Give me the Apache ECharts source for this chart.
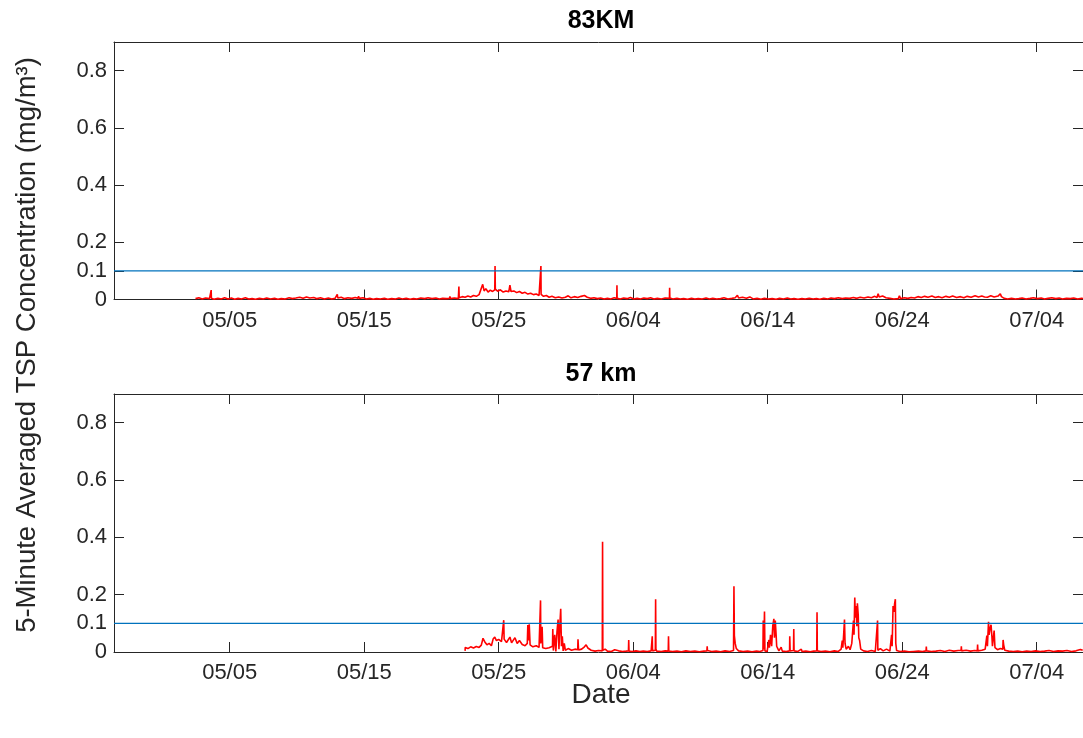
<!DOCTYPE html>
<html>
<head>
<meta charset="utf-8">
<title>5-Minute Averaged TSP Concentration</title>
<script src="https://cdn.jsdelivr.net/npm/echarts@6/dist/echarts.min.js"></script>
<style>
  html, body { margin: 0; padding: 0; background: #ffffff; }
  #chart { width: 1083px; height: 738px; }
</style>
</head>
<body>
<div id="chart"></div>
<script>
// ---- data -------------------------------------------------------------
const panelTitles = ['83KM', '57 km'];
const dateTicks = ['05-05', '05-15', '05-25', '06-04', '06-14', '06-24', '07-04'];
const concTicks = [0, 0.1, 0.2, 0.4, 0.6, 0.8];
const thresholdValue = 0.1;

// 83KM station, 5-minute averaged TSP (mg/m3)
const site83 = [
  ['05-02 11:00', 0.003], ['05-02 17:00', 0.006], ['05-02 23:00', 0.002], ['05-03 05:00', 0.005],
  ['05-03 12:00', 0.003], ['05-03 14:40', 0.004], ['05-03 15:00', 0.033], ['05-03 15:20', 0.004],
  ['05-03 20:00', 0.001], ['05-04 03:00', 0.004], ['05-04 09:00', 0.002], ['05-04 15:00', 0.006],
  ['05-04 21:00', 0.002], ['05-05 03:00', 0.005], ['05-05 09:00', 0.001], ['05-05 15:00', 0.004],
  ['05-05 21:00', 0.002], ['05-06 04:00', 0.006], ['05-06 10:00', 0.002], ['05-06 16:00', 0.003],
  ['05-06 22:00', 0.001], ['05-07 05:00', 0.004], ['05-07 12:00', 0.002], ['05-07 18:00', 0.005],
  ['05-08 01:00', 0.002], ['05-08 08:00', 0.004], ['05-08 14:00', 0.001], ['05-08 20:00', 0.003],
  ['05-09 03:00', 0.002], ['05-09 10:00', 0.006], ['05-09 16:00', 0.003], ['05-09 22:00', 0.005],
  ['05-10 05:00', 0.008], ['05-10 11:00', 0.004], ['05-10 17:00', 0.009], ['05-10 23:00', 0.005],
  ['05-11 06:00', 0.007], ['05-11 12:00', 0.003], ['05-11 18:00', 0.006], ['05-12 01:00', 0.002],
  ['05-12 08:00', 0.005], ['05-12 14:00', 0.002], ['05-12 20:00', 0.004], ['05-12 23:00', 0.005],
  ['05-13 00:00', 0.018], ['05-13 01:00', 0.005], ['05-13 07:00', 0.008], ['05-13 13:00', 0.003],
  ['05-13 19:00', 0.006], ['05-14 02:00', 0.004], ['05-14 08:00', 0.007], ['05-14 13:00', 0.004],
  ['05-14 14:00', 0.012], ['05-14 15:00', 0.004], ['05-14 22:00', 0.006], ['05-15 04:00', 0.002],
  ['05-15 10:00', 0.004], ['05-15 16:00', 0.001], ['05-15 22:00', 0.003], ['05-16 05:00', 0.002],
  ['05-16 12:00', 0.004], ['05-16 18:00', 0.001], ['05-17 01:00', 0.003], ['05-17 08:00', 0.002],
  ['05-17 14:00', 0.005], ['05-17 20:00', 0.002], ['05-18 03:00', 0.004], ['05-18 10:00', 0.001],
  ['05-18 16:00', 0.003], ['05-18 22:00', 0.002], ['05-19 05:00', 0.005], ['05-19 12:00', 0.003],
  ['05-19 18:00', 0.006], ['05-20 01:00', 0.003], ['05-20 08:00', 0.005], ['05-20 14:00', 0.002],
  ['05-20 20:00', 0.004], ['05-21 03:00', 0.003], ['05-21 08:00', 0.004], ['05-21 09:00', 0.011],
  ['05-21 10:00', 0.003], ['05-21 17:00', 0.005], ['05-22 00:00', 0.003], ['05-22 01:00', 0.045],
  ['05-22 01:30', 0.006], ['05-22 07:00', 0.010], ['05-22 12:00', 0.008], ['05-22 17:00', 0.012],
  ['05-22 22:00', 0.009], ['05-23 03:00', 0.014], ['05-23 08:00', 0.011], ['05-23 13:00', 0.017],
  ['05-23 16:00', 0.013], ['05-23 19:30', 0.053], ['05-23 22:00', 0.030], ['05-24 01:00', 0.038],
  ['05-24 05:00', 0.026], ['05-24 09:00', 0.033], ['05-24 13:00', 0.028], ['05-24 17:00', 0.034],
  ['05-24 17:30', 0.117], ['05-24 18:00', 0.036], ['05-24 22:00', 0.029], ['05-25 03:00', 0.034],
  ['05-25 08:00', 0.026], ['05-25 13:00', 0.030], ['05-25 18:00', 0.027], ['05-25 20:00', 0.050],
  ['05-25 22:00', 0.028], ['05-26 03:00', 0.030], ['05-26 08:00', 0.024], ['05-26 13:00', 0.028],
  ['05-26 18:00', 0.022], ['05-26 23:00', 0.025], ['05-27 04:00', 0.019], ['05-27 09:00', 0.022],
  ['05-27 14:00', 0.017], ['05-27 19:00', 0.019], ['05-28 00:00', 0.014], ['05-28 03:00', 0.015],
  ['05-28 03:20', 0.117], ['05-28 03:40', 0.018], ['05-28 08:00', 0.011], ['05-28 13:00', 0.014],
  ['05-28 18:00', 0.008], ['05-28 23:00', 0.011], ['05-29 05:00', 0.006], ['05-29 11:00', 0.009],
  ['05-29 17:00', 0.005], ['05-29 23:00', 0.008], ['05-30 04:00', 0.013], ['05-30 09:00', 0.006],
  ['05-30 15:00', 0.010], ['05-30 21:00', 0.007], ['05-31 03:00', 0.011], ['05-31 09:00', 0.014],
  ['05-31 14:00', 0.008], ['05-31 20:00', 0.004], ['06-01 02:00', 0.006], ['06-01 08:00', 0.003],
  ['06-01 14:00', 0.005], ['06-01 20:00', 0.002], ['06-02 02:00', 0.004], ['06-02 08:00', 0.002],
  ['06-02 14:00', 0.006], ['06-02 18:40', 0.004], ['06-02 19:00', 0.050], ['06-02 19:20', 0.004],
  ['06-03 01:00', 0.002], ['06-03 07:00', 0.005], ['06-03 13:00', 0.003], ['06-03 19:00', 0.007],
  ['06-04 01:00', 0.002], ['06-04 07:00', 0.004], ['06-04 13:00', 0.002], ['06-04 19:00', 0.005],
  ['06-05 01:00', 0.003], ['06-05 07:00', 0.006], ['06-05 13:00', 0.002], ['06-05 19:00', 0.004],
  ['06-06 02:00', 0.002], ['06-06 09:00', 0.005], ['06-06 16:40', 0.004], ['06-06 17:00', 0.041],
  ['06-06 17:20', 0.005], ['06-06 23:00', 0.002], ['06-07 06:00', 0.004], ['06-07 12:00', 0.002],
  ['06-07 18:00', 0.003], ['06-08 01:00', 0.001], ['06-08 08:00', 0.004], ['06-08 14:00', 0.002],
  ['06-08 20:00', 0.003], ['06-09 03:00', 0.002], ['06-09 10:00', 0.005], ['06-09 16:00', 0.002],
  ['06-09 22:00', 0.004], ['06-10 05:00', 0.002], ['06-10 12:00', 0.003], ['06-10 18:00', 0.006],
  ['06-11 01:00', 0.002], ['06-11 08:00', 0.004], ['06-11 14:00', 0.006], ['06-11 18:00', 0.015],
  ['06-11 20:00', 0.005], ['06-12 03:00', 0.008], ['06-12 10:00', 0.004], ['06-12 16:00', 0.009],
  ['06-12 22:00', 0.002], ['06-13 05:00', 0.004], ['06-13 12:00', 0.001], ['06-13 18:00', 0.004],
  ['06-14 01:00', 0.002], ['06-14 08:00', 0.003], ['06-14 15:00', 0.001], ['06-14 21:00', 0.004],
  ['06-15 04:00', 0.002], ['06-15 11:00', 0.005], ['06-15 17:00', 0.002], ['06-15 23:00', 0.003],
  ['06-16 06:00', 0.001], ['06-16 13:00', 0.003], ['06-16 19:00', 0.002], ['06-17 02:00', 0.004],
  ['06-17 09:00', 0.002], ['06-17 15:00', 0.003], ['06-17 21:00', 0.001], ['06-18 04:00', 0.004],
  ['06-18 11:00', 0.002], ['06-18 17:00', 0.005], ['06-18 23:00', 0.003], ['06-19 06:00', 0.006],
  ['06-19 13:00', 0.003], ['06-19 19:00', 0.005], ['06-20 02:00', 0.004], ['06-20 09:00', 0.007],
  ['06-20 15:00', 0.004], ['06-20 21:00', 0.008], ['06-21 04:00', 0.005], ['06-21 11:00', 0.009],
  ['06-21 17:00', 0.006], ['06-21 23:00', 0.011], ['06-22 03:00', 0.007], ['06-22 05:00', 0.020],
  ['06-22 07:00', 0.009], ['06-22 13:00', 0.012], ['06-22 19:00', 0.006], ['06-23 02:00', 0.004],
  ['06-23 09:00', 0.002], ['06-23 17:00', 0.003], ['06-23 19:00', 0.013], ['06-23 21:00', 0.003],
  ['06-24 04:00', 0.006], ['06-24 10:00', 0.004], ['06-24 16:00', 0.007], ['06-24 22:00', 0.005],
  ['06-25 04:00', 0.010], ['06-25 10:00', 0.007], ['06-25 16:00', 0.011], ['06-25 22:00', 0.008],
  ['06-26 05:00', 0.012], ['06-26 11:00', 0.007], ['06-26 17:00', 0.010], ['06-26 23:00', 0.006],
  ['06-27 06:00', 0.011], ['06-27 12:00', 0.008], ['06-27 18:00', 0.012], ['06-28 01:00', 0.007],
  ['06-28 08:00', 0.010], ['06-28 14:00', 0.006], ['06-28 20:00', 0.011], ['06-29 03:00', 0.008],
  ['06-29 10:00', 0.013], ['06-29 16:00', 0.009], ['06-29 22:00', 0.012], ['06-30 03:00', 0.009],
  ['06-30 05:00', 0.015], ['06-30 08:00', 0.008], ['06-30 14:00', 0.013], ['06-30 20:00', 0.009],
  ['07-01 03:00', 0.012], ['07-01 07:00', 0.020], ['07-01 09:00', 0.010], ['07-01 14:00', 0.004],
  ['07-01 20:00', 0.002], ['07-02 03:00', 0.004], ['07-02 10:00', 0.002], ['07-02 16:00', 0.003],
  ['07-02 22:00', 0.005], ['07-03 05:00', 0.002], ['07-03 12:00', 0.004], ['07-03 18:00', 0.006],
  ['07-04 01:00', 0.003], ['07-04 08:00', 0.005], ['07-04 14:00', 0.002], ['07-04 20:00', 0.004],
  ['07-05 03:00', 0.006], ['07-05 10:00', 0.003], ['07-05 16:00', 0.005], ['07-05 22:00', 0.002],
  ['07-06 05:00', 0.004], ['07-06 12:00', 0.003], ['07-06 18:00', 0.005], ['07-07 01:00', 0.002],
  ['07-07 08:00', 0.004], ['07-07 12:00', 0.003]
];

// 57 km station, 5-minute averaged TSP (mg/m3)
const site57 = [
  ['05-22 12:00', 0.004], ['05-22 12:20', 0.016], ['05-22 17:00', 0.012], ['05-22 22:00', 0.018],
  ['05-23 03:00', 0.014], ['05-23 08:00', 0.019], ['05-23 13:00', 0.016], ['05-23 17:00', 0.024],
  ['05-23 20:00', 0.048], ['05-23 23:00', 0.036], ['05-24 03:00', 0.025], ['05-24 07:00', 0.030],
  ['05-24 11:00', 0.022], ['05-24 14:00', 0.045], ['05-24 17:00', 0.052], ['05-24 20:00', 0.040],
  ['05-25 00:00', 0.044], ['05-25 05:00', 0.036], ['05-25 08:30', 0.040], ['05-25 09:00', 0.111],
  ['05-25 09:40', 0.045], ['05-25 14:00', 0.033], ['05-25 20:00', 0.052], ['05-25 23:00', 0.032],
  ['05-26 05:00', 0.050], ['05-26 09:00', 0.030], ['05-26 13:00', 0.040], ['05-26 18:00', 0.026],
  ['05-26 23:00', 0.022], ['05-27 03:00', 0.030], ['05-27 04:00', 0.094], ['05-27 05:00', 0.040],
  ['05-27 06:30', 0.097], ['05-27 08:00', 0.025], ['05-27 13:00', 0.018], ['05-27 19:00', 0.022],
  ['05-28 00:00', 0.016], ['05-28 02:20', 0.020], ['05-28 02:40', 0.180], ['05-28 03:10', 0.030],
  ['05-28 05:30', 0.088], ['05-28 06:30', 0.015], ['05-28 12:00', 0.012], ['05-28 18:00', 0.015],
  ['05-29 00:00', 0.020], ['05-29 00:30', 0.080], ['05-29 01:30', 0.005], ['05-29 04:00', 0.060],
  ['05-29 06:00', 0.002], ['05-29 08:00', 0.070], ['05-29 10:00', 0.113], ['05-29 11:30', 0.010],
  ['05-29 13:00', 0.090], ['05-29 14:40', 0.151], ['05-29 16:00', 0.020], ['05-29 17:30', 0.055],
  ['05-29 19:00', 0.004], ['05-29 21:00', 0.030], ['05-29 23:00', 0.006], ['05-30 04:00', 0.012],
  ['05-30 10:00', 0.006], ['05-30 16:00', 0.010], ['05-30 21:00', 0.008], ['05-30 21:30', 0.044],
  ['05-30 22:30', 0.007], ['05-31 04:00', 0.010], ['05-31 09:00', 0.018], ['05-31 12:00', 0.025],
  ['05-31 15:00', 0.014], ['05-31 21:00', 0.006], ['06-01 04:00', 0.003], ['06-01 10:00', 0.005],
  ['06-01 16:50', 0.004], ['06-01 17:20', 0.385], ['06-01 17:50', 0.006], ['06-01 22:00', 0.010],
  ['06-02 02:00', 0.003], ['06-02 09:00', 0.002], ['06-02 15:00', 0.008], ['06-02 16:00', 0.002],
  ['06-02 22:00', 0.004], ['06-03 05:00', 0.002], ['06-03 11:00', 0.003], ['06-03 15:30', 0.004],
  ['06-03 16:00', 0.042], ['06-03 16:30', 0.003], ['06-03 22:00', 0.002], ['06-04 05:00', 0.004],
  ['06-04 12:00', 0.002], ['06-04 18:00', 0.003], ['06-05 01:00', 0.002], ['06-05 08:00', 0.004],
  ['06-05 09:30', 0.003], ['06-05 10:00', 0.055], ['06-05 10:30', 0.004], ['06-05 15:30', 0.006],
  ['06-05 16:00', 0.184], ['06-05 16:30', 0.010], ['06-05 18:00', 0.003], ['06-06 02:00', 0.002],
  ['06-06 09:00', 0.004], ['06-06 14:30', 0.003], ['06-06 15:00', 0.055], ['06-06 15:30', 0.003],
  ['06-06 22:00', 0.002], ['06-07 06:00', 0.003], ['06-07 14:00', 0.001], ['06-07 22:00', 0.004],
  ['06-08 06:00', 0.002], ['06-08 14:00', 0.003], ['06-08 22:00', 0.001], ['06-09 06:00', 0.003],
  ['06-09 11:30', 0.004], ['06-09 12:00', 0.020], ['06-09 12:30', 0.005], ['06-09 20:00', 0.002],
  ['06-10 04:00', 0.003], ['06-10 12:00', 0.001], ['06-10 20:00', 0.004], ['06-11 04:00', 0.002],
  ['06-11 11:00', 0.005], ['06-11 11:45', 0.229], ['06-11 12:30', 0.057], ['06-11 14:00', 0.030],
  ['06-11 16:00', 0.012], ['06-11 20:00', 0.004], ['06-12 04:00', 0.002], ['06-12 12:00', 0.003],
  ['06-12 20:00', 0.001], ['06-13 04:00', 0.003], ['06-13 10:00', 0.002], ['06-13 15:30', 0.005],
  ['06-13 16:00', 0.110], ['06-13 17:00', 0.010], ['06-13 18:15', 0.141], ['06-13 19:00', 0.004],
  ['06-13 23:00', 0.002], ['06-14 02:00', 0.042], ['06-14 03:00', 0.015], ['06-14 05:00', 0.060],
  ['06-14 07:00', 0.020], ['06-14 09:00', 0.090], ['06-14 11:00', 0.116], ['06-14 12:00', 0.050],
  ['06-14 13:30', 0.110], ['06-14 15:00', 0.060], ['06-14 16:00', 0.020], ['06-14 18:00', 0.012],
  ['06-14 20:00', 0.004], ['06-15 00:00', 0.017], ['06-15 02:00', 0.003], ['06-15 09:00', 0.002],
  ['06-15 15:00', 0.004], ['06-15 15:20', 0.055], ['06-15 16:00', 0.004], ['06-15 22:00', 0.005],
  ['06-15 22:30', 0.080], ['06-15 23:00', 0.004], ['06-16 06:00', 0.002], ['06-16 12:00', 0.010],
  ['06-16 13:00', 0.002], ['06-16 20:00', 0.003], ['06-17 04:00', 0.001], ['06-17 10:00', 0.003],
  ['06-17 15:30', 0.004], ['06-17 16:00', 0.139], ['06-17 16:30', 0.004], ['06-17 23:00', 0.002],
  ['06-18 07:00', 0.003], ['06-18 15:00', 0.001], ['06-18 23:00', 0.004], ['06-19 06:00', 0.002],
  ['06-19 11:00', 0.010], ['06-19 13:00', 0.040], ['06-19 14:00', 0.015], ['06-19 15:30', 0.060],
  ['06-19 17:00', 0.113], ['06-19 18:00', 0.030], ['06-19 20:00', 0.010], ['06-20 00:00', 0.020],
  ['06-20 03:00', 0.008], ['06-20 06:00', 0.030], ['06-20 09:00', 0.110], ['06-20 10:00', 0.060],
  ['06-20 11:20', 0.190], ['06-20 12:30', 0.120], ['06-20 14:00', 0.160], ['06-20 15:00', 0.090],
  ['06-20 16:00', 0.170], ['06-20 17:30', 0.130], ['06-20 18:30', 0.050], ['06-20 20:00', 0.040],
  ['06-20 22:00', 0.010], ['06-21 03:00', 0.004], ['06-21 10:00', 0.002], ['06-21 17:00', 0.005],
  ['06-22 00:00', 0.002], ['06-22 03:30', 0.004], ['06-22 04:00', 0.110], ['06-22 04:30', 0.006],
  ['06-22 09:00', 0.012], ['06-22 14:00', 0.004], ['06-22 20:00', 0.010], ['06-23 02:00', 0.003],
  ['06-23 05:00', 0.060], ['06-23 06:00', 0.020], ['06-23 07:40', 0.160], ['06-23 09:00', 0.140],
  ['06-23 10:30', 0.170], ['06-23 11:45', 0.184], ['06-23 12:30', 0.030], ['06-23 14:00', 0.005],
  ['06-23 20:00', 0.002], ['06-24 04:00', 0.003], ['06-24 12:00', 0.001], ['06-24 20:00', 0.002],
  ['06-25 05:00', 0.003], ['06-25 12:00', 0.002], ['06-25 18:30', 0.004], ['06-25 19:00', 0.019],
  ['06-25 19:30', 0.004], ['06-26 04:00', 0.002], ['06-26 12:00', 0.003], ['06-26 20:00', 0.005],
  ['06-27 04:00', 0.002], ['06-27 12:00', 0.006], ['06-27 20:00', 0.003], ['06-28 04:00', 0.005],
  ['06-28 09:00', 0.006], ['06-28 09:30', 0.020], ['06-28 10:00', 0.004], ['06-28 18:00', 0.006],
  ['06-29 02:00', 0.003], ['06-29 09:00', 0.005], ['06-29 14:00', 0.004], ['06-29 14:30', 0.026],
  ['06-29 15:00', 0.004], ['06-29 22:00', 0.006], ['06-30 04:00', 0.010], ['06-30 07:00', 0.057],
  ['06-30 08:00', 0.020], ['06-30 10:00', 0.105], ['06-30 11:00', 0.060], ['06-30 12:30', 0.080],
  ['06-30 14:30', 0.095], ['06-30 16:00', 0.055], ['06-30 17:00', 0.020], ['06-30 20:00', 0.075],
  ['06-30 21:30', 0.015], ['07-01 02:00', 0.008], ['07-01 07:00', 0.012], ['07-01 11:30', 0.010],
  ['07-01 12:00', 0.042], ['07-01 13:00', 0.025], ['07-01 15:00', 0.006], ['07-01 22:00', 0.003],
  ['07-02 06:00', 0.002], ['07-02 14:00', 0.003], ['07-02 22:00', 0.001], ['07-03 06:00', 0.003],
  ['07-03 14:00', 0.002], ['07-03 22:00', 0.004], ['07-04 06:00', 0.002], ['07-04 14:00', 0.003],
  ['07-04 22:00', 0.005], ['07-05 06:00', 0.002], ['07-05 14:00', 0.004], ['07-05 22:00', 0.003],
  ['07-06 06:00', 0.005], ['07-06 14:00', 0.002], ['07-06 22:00', 0.004], ['07-07 06:00', 0.009],
  ['07-07 10:00', 0.006]
];

// ---- helpers ----------------------------------------------------------
const YEAR = 2019;
const DAY = 24 * 3600 * 1000;
function toMs(s) {
  const [md, hm] = s.split(' ');
  const [mo, d] = md.split('-').map(Number);
  const [h, mi] = (hm || '00:00').split(':').map(Number);
  return Date.UTC(YEAR, mo - 1, d, h, mi);
}
function pad(n) { return (n < 10 ? '0' : '') + n; }
function fmtDate(v) {
  const d = new Date(v);
  return pad(d.getUTCMonth() + 1) + '/' + pad(d.getUTCDate());
}

const refDay = toMs('05-05 00:00');
const xMin = refDay - 8.6 * DAY;
const xMax = refDay + 63.44 * DAY;
const xTickValues = dateTicks.map(t => toMs(t + ' 00:00'));

const FONT = "'Liberation Sans', Arial, Helvetica, sans-serif";
const INK = '#262626';

const grids = [
  { left: 114, top: 42, width: 974, height: 257.5 },
  { left: 114, top: 394, width: 974, height: 258 }
];

// ---- axes -------------------------------------------------------------
const xAxes = [];
const yAxes = [];
grids.forEach((g, i) => {
  const lineStyle = { color: INK, width: 1 };
  xAxes.push({
    type: 'value', gridIndex: i, position: 'bottom', min: xMin, max: xMax,
    axisLine: { show: true, onZero: false, lineStyle },
    axisTick: { show: true, inside: true, length: 10, customValues: xTickValues, lineStyle },
    axisLabel: { show: true, customValues: xTickValues, formatter: fmtDate,
                 color: INK, fontSize: 22, fontFamily: FONT, margin: 10 },
    splitLine: { show: false }
  });
  xAxes.push({
    type: 'value', gridIndex: i, position: 'top', min: xMin, max: xMax,
    axisLine: { show: true, onZero: false, lineStyle },
    axisTick: { show: true, inside: true, length: 10, customValues: xTickValues, lineStyle },
    axisLabel: { show: false },
    splitLine: { show: false }
  });
  yAxes.push({
    type: 'value', gridIndex: i, position: 'left', min: 0, max: 0.9,
    axisLine: { show: true, onZero: false, lineStyle },
    axisTick: { show: true, inside: true, length: 10, customValues: concTicks, lineStyle },
    axisLabel: { show: true, customValues: concTicks,
                 formatter: v => (v === 0 ? '0' : v.toFixed(1)),
                 color: INK, fontSize: 22, fontFamily: FONT, margin: 7 },
    splitLine: { show: false }
  });
  yAxes.push({
    type: 'value', gridIndex: i, position: 'right', min: 0, max: 0.9,
    axisLine: { show: true, onZero: false, lineStyle },
    axisTick: { show: true, inside: true, length: 10, customValues: concTicks, lineStyle },
    axisLabel: { show: false },
    splitLine: { show: false }
  });
});

// ---- series -----------------------------------------------------------
const stations = [site83, site57];
const series = [];
stations.forEach((rows, i) => {
  series.push({
    type: 'line', xAxisIndex: i * 2, yAxisIndex: i * 2,
    data: rows.map(r => [toMs(r[0]), r[1]]),
    showSymbol: false, symbol: 'none', clip: true, sampling: null,
    lineStyle: { color: '#ff0000', width: 1.6 },
    emphasis: { disabled: true }, z: 2
  });
  series.push({
    type: 'line', xAxisIndex: i * 2, yAxisIndex: i * 2,
    data: [[xMin, thresholdValue], [xMax, thresholdValue]],
    showSymbol: false, symbol: 'none', clip: true,
    lineStyle: { color: '#0072bd', width: 1.3 },
    emphasis: { disabled: true }, z: 3
  });
});

// ---- text -------------------------------------------------------------
const graphic = [
  { type: 'text', x: 601, y: 21, style: { text: panelTitles[0], fill: '#000', font: `bold 25px ${FONT}`, textAlign: 'center', textVerticalAlign: 'middle' } },
  { type: 'text', x: 601, y: 374, style: { text: panelTitles[1], fill: '#000', font: `bold 25px ${FONT}`, textAlign: 'center', textVerticalAlign: 'middle' } },
  { type: 'text', x: 601, y: 695, style: { text: 'Date', fill: INK, font: `28px ${FONT}`, textAlign: 'center', textVerticalAlign: 'middle' } },
  { type: 'text', x: 27, y: 345, rotation: Math.PI / 2,
    style: { text: '5-Minute Averaged TSP Concentration (mg/m³)', fill: INK, font: `27.5px ${FONT}`, textAlign: 'center', textVerticalAlign: 'middle' } }
];

const chart = echarts.init(document.getElementById('chart'), null, { renderer: 'canvas' });
chart.setOption({
  animation: false,
  backgroundColor: '#ffffff',
  grid: grids,
  xAxis: xAxes,
  yAxis: yAxes,
  series: series,
  graphic: graphic,
  tooltip: { show: false }
});
</script>
</body>
</html>
